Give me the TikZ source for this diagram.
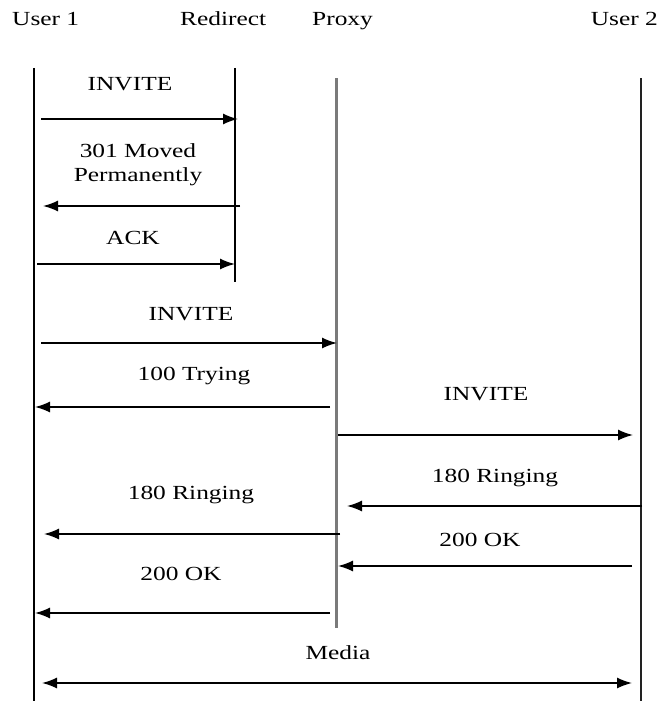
\documentclass[tikz,border=0pt]{standalone}
\usepackage{fontspec}
\setmainfont{Liberation Serif}[FakeStretch=1.27]
\usetikzlibrary{arrows.meta,positioning}
\definecolor{proxygray}{HTML}{7A7A7A}
\definecolor{linedark}{HTML}{222222}

\begin{document}
\begin{tikzpicture}[
    x=1pt, y=-1pt,
    head/.style={inner sep=0pt, font=\fontsize{20}{24}\selectfont},
    lbl/.style={anchor=base, inner sep=0pt, align=center, font=\fontsize{20}{24}\selectfont},
    life/.style={line width=1.6pt, linedark},
    msg/.style={-{Latex[length=15pt, width=11pt]}, line width=1.5pt},
    both/.style={{Latex[length=15pt, width=11pt]}-{Latex[length=15pt, width=11pt]}, line width=1.5pt}
  ]
    \useasboundingbox (0,0) rectangle (660,701);

    % participants
    \node[head, anchor=base west] (user1) at (12,26) {User 1};
    \node[head, anchor=base west] (redirect) at (180,26) {Redirect};
    \node[head, anchor=base west] (proxy) at (312,26) {Proxy};
    \node[head, anchor=base east] (user2) at (658,26) {User 2};

    % lifelines
    \coordinate (u1top) at (34,68);   \coordinate (u1bot) at (34,701);
    \coordinate (rdtop) at (235,68);  \coordinate (rdbot) at (235,282);
    \coordinate (pxtop) at (336,78);  \coordinate (pxbot) at (336,628);
    \coordinate (u2top) at (641,78);  \coordinate (u2bot) at (641,701);
    \draw[life, black] (u1top) -- (u1bot);
    \draw[life, black] (rdtop) -- (rdbot);
    \draw[life, proxygray, line width=3pt] (pxtop) -- (pxbot);
    \draw[life] (u2top) -- (u2bot);

    % message labels
    \node[lbl] (invite1) at (130,90) {INVITE};
    \node[lbl] (moved) at (138,181.5) {301 Moved\\Permanently};
    \node[lbl] (ack) at (133,244) {ACK};
    \node[lbl] (invite2) at (191,320) {INVITE};
    \node[lbl] (trying) at (194,380) {100 Trying};
    \node[lbl] (invite3) at (486,400) {INVITE};
    \node[lbl] (ringing2) at (495,482) {180 Ringing};
    \node[lbl] (ringing1) at (191,499) {180 Ringing};
    \node[lbl] (ok2) at (480,546) {200 OK};
    \node[lbl] (ok1) at (181,580) {200 OK};
    \node[lbl] (media) at (338,659) {Media};

    % message ends
    \coordinate (inv1a) at (41,119);   \coordinate (inv1b) at (238,119);
    \coordinate (movda) at (240,206);  \coordinate (movdb) at (43,206);
    \coordinate (acka) at (37,264);    \coordinate (ackb) at (235,264);
    \coordinate (inv2a) at (41,343);   \coordinate (inv2b) at (337,343);
    \coordinate (trya) at (330,407);   \coordinate (tryb) at (35,407);
    \coordinate (inv3a) at (338,435);  \coordinate (inv3b) at (633,435);
    \coordinate (rng2a) at (642,506);  \coordinate (rng2b) at (347,506);
    \coordinate (rng1a) at (340,534);  \coordinate (rng1b) at (44,534);
    \coordinate (ok2a) at (632,566);   \coordinate (ok2b) at (338,566);
    \coordinate (ok1a) at (330,613);   \coordinate (ok1b) at (35,613);
    \coordinate (meda) at (42,683);    \coordinate (medb) at (632,683);

    \draw[msg] (inv1a) -- (inv1b);
    \draw[msg] (movda) -- (movdb);
    \draw[msg] (acka) -- (ackb);
    \draw[msg] (inv2a) -- (inv2b);
    \draw[msg] (trya) -- (tryb);
    \draw[msg] (inv3a) -- (inv3b);
    \draw[msg] (rng2a) -- (rng2b);
    \draw[msg] (rng1a) -- (rng1b);
    \draw[msg] (ok2a) -- (ok2b);
    \draw[msg] (ok1a) -- (ok1b);
    \draw[both] (meda) -- (medb);
  \end{tikzpicture}
\end{document}
